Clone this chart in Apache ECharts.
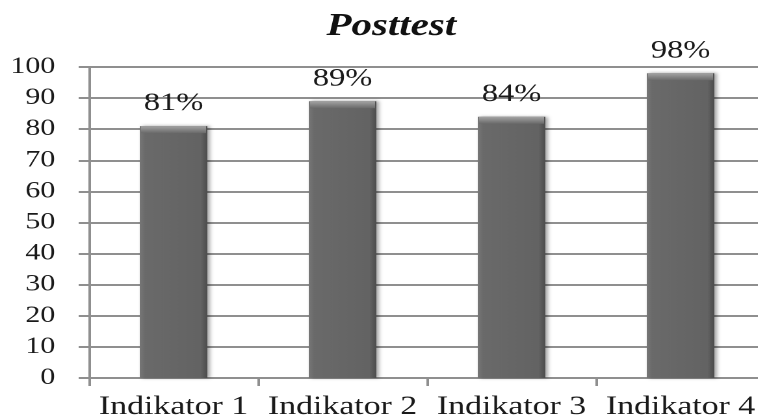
<!DOCTYPE html>
<html>
<head>
<meta charset="utf-8">
<script src="https://cdn.jsdelivr.net/npm/echarts@6/dist/echarts.min.js"></script>
<style>
  html, body { margin: 0; padding: 0; width: 758px; height: 420px; overflow: hidden; background: #fff; }
  /* The chart is laid out narrower and widened horizontally, giving the wide serif lettering */
  #chart { width: 600px; height: 420px; transform: scaleX(1.3); transform-origin: 0 0; }
</style>
</head>
<body>
<div id="chart"></div>
<script>
// Chart data
const categories = ['Indikator 1', 'Indikator 2', 'Indikator 3', 'Indikator 4'];
const posttestValues = [81, 89, 84, 98];
const titleText = 'Posttest';

const serif = 'Liberation Serif';
const gridColor = '#8f8f8f';

const chart = echarts.init(document.getElementById('chart'), null, { renderer: 'canvas', devicePixelRatio: 2 });

chart.setOption({
  backgroundColor: '#ffffff',
  animation: false,
  title: {
    text: titleText,
    left: 296,
    textAlign: 'center',
    top: 6,
    textStyle: { fontFamily: serif, fontSize: 31.5, fontWeight: 'bold', fontStyle: 'italic', color: '#111' }
  },
  grid: { left: 68.5, top: 67, width: 520, height: 314 },
  xAxis: {
    type: 'category',
    data: categories,
    axisLine: { show: true, lineStyle: { color: gridColor, width: 2 } },
    axisTick: { show: true, length: 8, lineStyle: { color: gridColor, width: 2 } },
    axisLabel: { fontFamily: serif, fontSize: 26, color: '#1a1a1a', margin: 16, interval: 0 },
    splitLine: { show: false }
  },
  yAxis: {
    type: 'value',
    min: 0,
    max: 100,
    interval: 10,
    axisLine: { show: true, lineStyle: { color: gridColor, width: 2 } },
    axisTick: { show: true, length: 8, lineStyle: { color: gridColor, width: 2 } },
    axisLabel: { fontFamily: serif, fontSize: 23, color: '#1a1a1a', margin: 26 },
    splitLine: { show: true, lineStyle: { color: gridColor, width: 2 } }
  },
  series: [
    {
      type: 'bar',
      data: posttestValues,
      barWidth: 52,
      barGap: '-100%',
      itemStyle: {
        color: new echarts.graphic.LinearGradient(0, 0, 1, 0, [
          { offset: 0, color: '#777777' },
          { offset: 0.08, color: '#6a6a6a' },
          { offset: 0.9, color: '#636363' },
          { offset: 1, color: '#4c4c4c' }
        ]),
        shadowColor: 'rgba(0,0,0,0.35)',
        shadowBlur: 3,
        shadowOffsetX: 2
      },
      label: {
        show: true,
        position: 'top',
        distance: 10,
        formatter: '{c}%',
        fontFamily: serif,
        fontSize: 25,
        color: '#1a1a1a'
      },
      z: 2
    },
    {
      // soft bevel along the top edge of each bar
      type: 'pictorialBar',
      data: posttestValues,
      symbol: 'rect',
      symbolSize: [50, 7],
      symbolPosition: 'end',
      barGap: '-100%',
      silent: true,
      itemStyle: {
        color: new echarts.graphic.LinearGradient(0, 0, 0, 1, [
          { offset: 0, color: '#a4a4a4' },
          { offset: 1, color: '#6a6a6a' }
        ])
      },
      z: 3
    }
  ]
});
</script>
</body>
</html>
